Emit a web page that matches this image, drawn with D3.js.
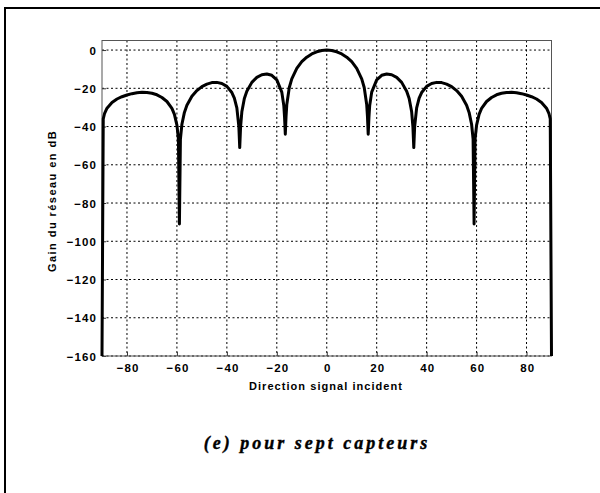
<!DOCTYPE html>
<html>
<head>
<meta charset="utf-8">
<script src="https://d3js.org/d3.v7.min.js"></script>
<style>
  body { margin: 0; background: #fff; }
  .tick-label { font-family: "Liberation Sans", Arial, sans-serif; font-weight: bold; font-size: 11.5px; letter-spacing: 1.1px; }
  .axis-title { font-family: "Liberation Sans", Arial, sans-serif; font-weight: bold; font-size: 11px; }
  .caption { font-family: "Liberation Serif", "Times New Roman", serif; font-weight: bold; font-style: italic; font-size: 18px; letter-spacing: 3px; }
</style>
</head>
<body>
<svg id="chart" width="600" height="493"></svg>
<script>
// angle of the incident signal (degrees) and array gain (dB)
const angles = [
  -90, -89.5, -89, -88, -86, -84, -82, -80, -78, -76, -74, -72, -70, -68, -66, -64, -62, -61, -60,
  -59.4, -59, -58.6, -58, -57, -56, -54, -52, -50, -48, -46, -44, -42, -40, -38, -37, -36,
  -35.2, -34.85, -34.5, -34, -33, -32, -30, -28, -26, -24, -22, -20, -18, -17.2,
  -16.9, -16.6, -16.3, -16, -15, -14, -12, -10, -8, -6, -4, -2,
  0,
  2, 4, 6, 8, 10, 12, 14, 15, 16, 16.3, 16.6, 16.9,
  17.2, 18, 20, 22, 24, 26, 28, 30, 32, 33, 34, 34.5, 34.85, 35.2,
  36, 37, 38, 40, 42, 44, 46, 48, 50, 52, 54, 56, 57, 58, 58.6, 59, 59.4,
  60, 61, 62, 64, 66, 68, 70, 72, 74, 76, 78, 80, 82, 84, 86, 88, 89, 89.5, 90
];
const gains = [
  -160, -36, -33.3, -30.4, -27.4, -25.6, -24.4, -23.5, -22.8, -22.3, -22.1, -22.2, -22.6, -23.4, -24.8, -26.9, -30.5, -33.6, -39.3,
  -46.5, -91, -46.5, -38.8, -32.6, -28.9, -24.2, -21.2, -19.1, -17.8, -17.0, -16.9, -17.5, -19.0, -22.2, -25.1, -30.2,
  -40, -51, -40, -32.3, -25.3, -21.5, -16.9, -14.3, -12.9, -12.5, -13.2, -15.6, -22, -29,
  -35, -44, -34.7, -28.5, -19.6, -15.1, -9.6, -6.1, -3.7, -2.0, -0.9, -0.2,
  0,
  -0.2, -0.9, -2.0, -3.7, -6.1, -9.6, -15.1, -19.6, -28.5, -34.7, -44, -35,
  -29, -22, -15.6, -13.2, -12.5, -12.9, -14.3, -16.9, -21.5, -25.3, -32.3, -40, -51, -40,
  -30.2, -25.1, -22.2, -19.0, -17.5, -16.9, -17.0, -17.8, -19.1, -21.2, -24.2, -28.9, -32.6, -38.8, -46.5, -91, -46.5,
  -39.3, -33.6, -30.5, -26.9, -24.8, -23.4, -22.6, -22.2, -22.1, -22.3, -22.8, -23.5, -24.4, -25.6, -27.4, -30.4, -33.3, -36, -160
];
const xTicks = [-80, -60, -40, -20, 0, 20, 40, 60, 80];
const yTicks = [0, -20, -40, -60, -80, -100, -120, -140, -160];
const xLabel = "Direction signal incident";
const yLabel = "Gain du réseau en dB";
const caption = "(e) pour sept capteurs";

window.onload = () => {
  drawChart();
};

let drawChart = () => {
  let svg = d3.select("#chart");
  let plot = { left: 102, right: 551.5, top: 40.5, bottom: 356 };

  let x = d3.scaleLinear().domain([-90, 90]).range([plot.left, plot.right]);
  let y = d3.scaleLinear().domain([-160, 5]).range([plot.bottom, plot.top]);

  // outer frame (only top and left edges fall inside the picture)
  svg.append("line")
    .attr("x1", 5).attr("x2", 600).attr("y1", 8).attr("y2", 8)
    .attr("stroke", "#000").attr("stroke-width", 2);
  svg.append("line")
    .attr("x1", 5).attr("x2", 5).attr("y1", 7).attr("y2", 493)
    .attr("stroke", "#000").attr("stroke-width", 2);

  // dotted grid
  let grid = svg.append("g").attr("class", "grid");
  grid.selectAll("line.vx")
    .data(xTicks)
    .enter()
    .append("line")
      .attr("x1", d => x(d)).attr("x2", d => x(d))
      .attr("y1", plot.top).attr("y2", plot.bottom)
      .attr("stroke", "#000").attr("stroke-width", 1)
      .attr("stroke-dasharray", "2,2.5");
  grid.selectAll("line.hy")
    .data(yTicks)
    .enter()
    .append("line")
      .attr("x1", plot.left).attr("x2", plot.right)
      .attr("y1", d => y(d)).attr("y2", d => y(d))
      .attr("stroke", "#000").attr("stroke-width", 1)
      .attr("stroke-dasharray", "2,2.5");

  // axes with inner ticks, matlab style
  let xAxis = d3.axisBottom(x).tickValues(xTicks).tickSizeInner(-4).tickSizeOuter(0).tickFormat(d3.format("d"));
  let yAxis = d3.axisLeft(y).tickValues(yTicks).tickSizeInner(-4).tickSizeOuter(0).tickFormat(d3.format("d"));

  let gx = svg.append("g")
    .attr("transform", "translate(0," + plot.bottom + ")")
    .call(xAxis);
  let gy = svg.append("g")
    .attr("transform", "translate(" + plot.left + ",0)")
    .call(yAxis);

  [gx, gy].forEach(g => {
    g.select(".domain").remove();
    g.selectAll(".tick line").attr("stroke", "#333");
    g.selectAll(".tick text")
      .attr("class", "tick-label")
      .attr("fill", "#000")
      .attr("font-family", null)
      .attr("font-size", null);
  });
  gx.selectAll(".tick text").attr("dy", null).attr("y", 16).attr("dx", "0.6px");
  gy.selectAll(".tick text").attr("dy", "0.35em").attr("x", -5);

  // axes box
  svg.append("rect")
    .attr("x", plot.left).attr("y", plot.top)
    .attr("width", plot.right - plot.left).attr("height", plot.bottom - plot.top)
    .attr("fill", "none").attr("stroke", "#555").attr("stroke-width", 1);

  // gain curve
  let line = d3.line()
    .x((d, i) => x(angles[i]))
    .y(d => y(d));

  svg.append("path")
    .datum(gains)
    .attr("d", line)
    .attr("fill", "none")
    .attr("stroke", "#000")
    .attr("stroke-width", 3)
    .attr("stroke-linejoin", "round");

  // axis titles
  svg.append("text")
    .attr("class", "axis-title")
    .attr("x", 326).attr("y", 390)
    .attr("text-anchor", "middle")
    .attr("fill", "#000")
    .style("letter-spacing", "1.05px")
    .text(xLabel);

  svg.append("text")
    .attr("class", "axis-title")
    .attr("transform", "translate(56,201) rotate(-90)")
    .attr("text-anchor", "middle")
    .attr("fill", "#000")
    .style("letter-spacing", "1.45px")
    .text(yLabel);

  svg.append("text")
    .attr("class", "caption")
    .attr("x", 317).attr("y", 449)
    .attr("text-anchor", "middle")
    .attr("fill", "#000")
    .attr("stroke", "#000")
    .attr("stroke-width", 0.4)
    .text(caption);
};
</script>
</body>
</html>
